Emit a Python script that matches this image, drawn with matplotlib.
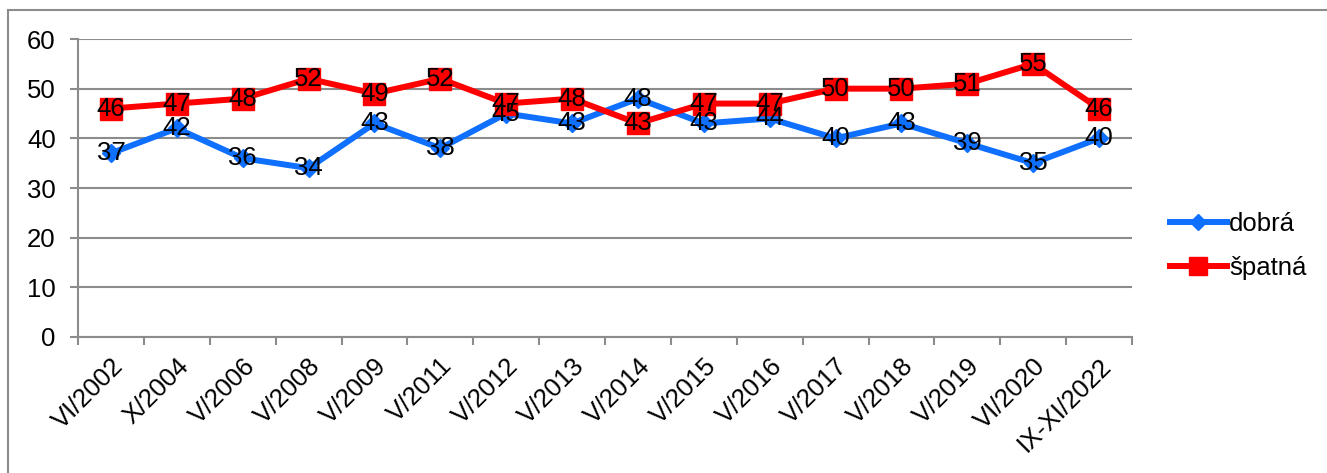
import matplotlib
matplotlib.use("Agg")
import matplotlib.pyplot as plt
from matplotlib.lines import Line2D
import numpy as np

plt.rcParams['font.family'] = ['Liberation Sans', 'DejaVu Sans']

categories = ["VI/2002", "X/2004", "V/2006", "V/2008", "V/2009", "V/2011", "V/2012",
              "V/2013", "V/2014", "V/2015", "V/2016", "V/2017", "V/2018", "V/2019",
              "VI/2020", "IX-XI/2022"]
dobra = [37, 42, 36, 34, 43, 38, 45, 43, 48, 43, 44, 40, 43, 39, 35, 40]
spatna = [46, 47, 48, 52, 49, 52, 47, 48, 43, 47, 47, 50, 50, 51, 55, 46]
series_names = ["dobrá", "špatná"]
yticks = [0, 10, 20, 30, 40, 50, 60]

blue = "#0F6FFF"
red = "#FF0000"
grid_c = "#8C8C8C"
FS = 18.5

W, H = 1327, 473
fig = plt.figure(figsize=(W / 100, H / 100), dpi=100)
ax = fig.add_axes([78 / W, 1 - 337 / H, (1132 - 78) / W, (337 - 39) / H])

x = np.arange(len(categories))
ax.plot(x, dobra, color=blue, lw=4.3, marker='D', ms=9, label=series_names[0], zorder=3)
ax.plot(x, spatna, color=red, lw=4.3, marker='s', ms=16, label=series_names[1], zorder=3)

for xi, v in zip(x, dobra):
    ax.text(xi, v, str(v), ha='center', va='center', fontsize=FS, color='black', zorder=5)
for xi, v in zip(x, spatna):
    ax.text(xi, v, str(v), ha='center', va='center', fontsize=FS, color='black', zorder=5)

ax.set_xlim(-0.5, len(categories) - 0.5)
ax.set_ylim(0, 60)
ax.set_yticks(yticks)
ax.set_yticklabels([str(t) for t in yticks], fontsize=FS)
ax.yaxis.grid(True, color=grid_c, lw=1.5)
ax.set_axisbelow(True)

ax.set_xticks(x)
ax.set_xticklabels(categories, rotation=45, ha='right', rotation_mode='anchor', fontsize=FS)
ax.tick_params(axis='x', which='major', length=0, pad=12)
ax.set_xticks(np.arange(-0.5, len(categories)), minor=True)
ax.tick_params(axis='x', which='minor', length=6, width=1.5, color=grid_c)
ax.tick_params(axis='y', length=6, width=1.5, color=grid_c, pad=10)

for s in ['top', 'right']:
    ax.spines[s].set_visible(False)
for s in ['left', 'bottom']:
    ax.spines[s].set_color(grid_c)
    ax.spines[s].set_linewidth(1.5)

ax.legend(loc='center left', bbox_to_anchor=(1170 / W, 1 - 246 / H),
          bbox_transform=fig.transFigure, frameon=False, fontsize=FS,
          handlelength=2.2, handletextpad=0.1, labelspacing=0.75, borderpad=0,
          borderaxespad=0, markerscale=0.85)

# outer chart border (left and top)
fig.add_artist(Line2D([8 / W, 8 / W], [0, 1 - 10 / H], transform=fig.transFigure,
                      color=grid_c, lw=1.5))
fig.add_artist(Line2D([8 / W, 1], [1 - 10 / H, 1 - 10 / H], transform=fig.transFigure,
                      color=grid_c, lw=1.5))

fig.savefig("out.png", dpi=100)
